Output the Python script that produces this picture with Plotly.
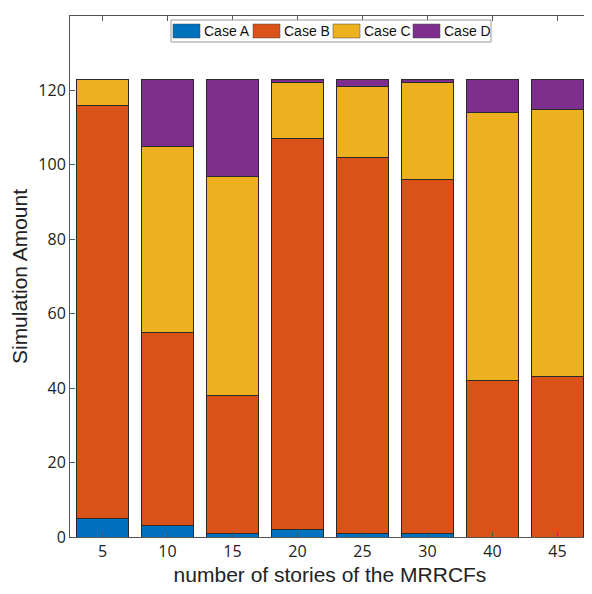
import plotly.graph_objects as go

categories = ["5", "10", "15", "20", "25", "30", "40", "45"]
case_a = [5, 3, 1, 2, 1, 1, 0, 0]
case_b = [111, 52, 37, 105, 101, 95, 42, 43]
case_c = [7, 50, 59, 15, 19, 26, 72, 72]
case_d = [0, 18, 26, 1, 2, 1, 9, 8]
y_ticks = [0, 20, 40, 60, 80, 100, 120, 140]

series_names = ["Case A", "Case B", "Case C", "Case D"]
series_values = [case_a, case_b, case_c, case_d]
series_colors = ["#0072BD", "#D95319", "#EDB120", "#7E2F8E"]

fig = go.Figure()
for name, vals, col in zip(series_names, series_values, series_colors):
    fig.add_trace(go.Bar(x=categories, y=vals, name=name, showlegend=False,
                         marker=dict(color=col, line=dict(color="#2a2a2a", width=1))))

# plot area geometry (pixels) used for a MATLAB-style legend box
PW, PH = 520.0, 521.0
def px(x):
    return x / PW
def py(y):
    return 1 - y / PH

shapes = []
annotations = []
# legend box
shapes.append(dict(type="rect", xref="paper", yref="paper",
                   x0=px(101), x1=px(421), y0=py(26), y1=py(4),
                   line=dict(color="#9a9a9a", width=1), fillcolor="white"))
for i, (name, col) in enumerate(zip(series_names, series_colors)):
    x0 = 103 + 80 * i
    shapes.append(dict(type="rect", xref="paper", yref="paper",
                       x0=px(x0), x1=px(x0 + 27), y0=py(22), y1=py(8),
                       line=dict(color="#444444", width=0.5), fillcolor=col))
    annotations.append(dict(xref="paper", yref="paper", x=px(x0 + 29), y=py(15),
                            text=name, showarrow=False, xanchor="left", yanchor="middle",
                            font=dict(size=14, family="Liberation Sans, Arial", color="#111111")))

fig.update_layout(
    barmode="stack", bargap=0.2,
    width=584, height=586,
    margin=dict(l=62, r=2, t=8, b=57, autoexpand=False),
    paper_bgcolor="white", plot_bgcolor="white",
    font=dict(family="Liberation Sans, Arial", color="#222222"),
    showlegend=False,
    shapes=shapes, annotations=annotations,
    xaxis=dict(type="category", showline=True, linecolor="#555555", linewidth=1, mirror="allticks",
               ticks="inside", ticklen=5, tickcolor="#555555",
               tickfont=dict(size=16, family="Open Sans"),
               title=dict(text="number of stories of the MRRCFs", font=dict(size=21), standoff=6)),
    yaxis=dict(range=[0, 140], tickvals=y_ticks, showline=True, linecolor="#555555", linewidth=1,
               mirror="allticks", ticks="inside", ticklen=5, tickcolor="#555555", showgrid=False,
               zeroline=False,
               tickfont=dict(size=16, family="Open Sans"),
               title=dict(text="Simulation Amount", font=dict(size=21), standoff=8)),
)

fig.write_html("out.html")
